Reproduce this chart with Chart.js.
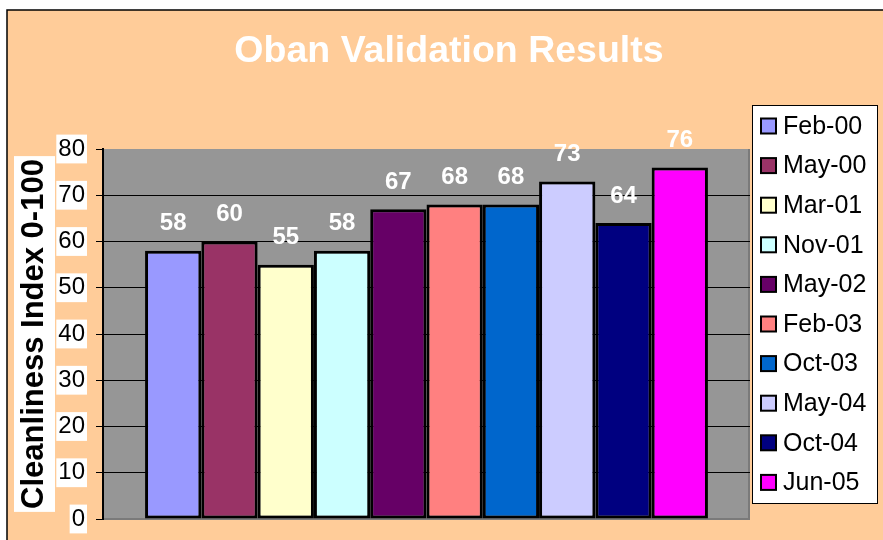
<!DOCTYPE html>
<html>
<head>
<meta charset="utf-8">
<script src="https://cdn.jsdelivr.net/npm/chart.js@4/dist/chart.umd.min.js"></script>
<style>
html,body{margin:0;padding:0;background:#fff;}
#wrap{width:883px;height:540px;position:relative;}
</style>
</head>
<body>
<div id="wrap"><canvas id="c" width="883" height="540"></canvas></div>
<script>
// ---- data ----
const seriesNames = ['Feb-00','May-00','Mar-01','Nov-01','May-02','Feb-03','Oct-03','May-04','Oct-04','Jun-05'];
const seriesValues = [58, 60, 55, 58, 67, 68, 68, 73, 64, 76];
const seriesColors = ['#9999FF','#993366','#FFFFCC','#CCFFFF','#660066','#FF8080','#0066CC','#CCCCFF','#000080','#FF00FF'];
const categories = [''];
const yTicks = [0,10,20,30,40,50,60,70,80];
const chartTitle = 'Oban Validation Results';

const FONT = '"Liberation Sans", Arial, sans-serif';

const datasets = seriesNames.map((n, i) => ({
  label: n,
  data: [seriesValues[i]],
  backgroundColor: seriesColors[i],
  borderColor: '#000',
  borderWidth: 3,
  borderSkipped: false
}));

const bgPlugin = {
  id: 'bg',
  beforeDraw(chart) {
    const ctx = chart.ctx;
    ctx.save();
    ctx.fillStyle = '#fff';
    ctx.fillRect(0, 0, chart.width, chart.height);
    ctx.fillStyle = '#FFCC99';
    ctx.fillRect(7, 10, chart.width - 7, chart.height - 10);
    ctx.strokeStyle = '#000';
    ctx.lineWidth = 1.5;
    ctx.beginPath();
    ctx.moveTo(7, chart.height);
    ctx.lineTo(7, 10);
    ctx.lineTo(chart.width, 10);
    ctx.stroke();
    // plot area
    const a = chart.chartArea;
    ctx.fillStyle = '#969696';
    ctx.fillRect(a.left, a.top, a.right - a.left, a.bottom - a.top);
    ctx.fillStyle = '#7a7a7a';
    ctx.fillRect(a.right - 2, a.top, 2, a.bottom - a.top + 1);
    ctx.fillRect(a.left, a.bottom - 1, a.right - a.left, 2);
    // axis title backdrop
    const ys = chart.scales.y;
    ctx.font = 'bold 31px ' + FONT;
    const tw = ctx.measureText(ys.options.title.text).width;
    const cy = (a.top + a.bottom) / 2;
    ctx.fillStyle = '#fff';
    ctx.fillRect(14, cy - tw / 2 - 3, 41, tw + 6);
    // chart title (centred on full chart width)
    ctx.fillStyle = '#fff';
    ctx.font = 'bold 37.5px ' + FONT;
    ctx.textAlign = 'center';
    ctx.textBaseline = 'middle';
    ctx.fillText(chartTitle, 449, 52);
    ctx.restore();
  }
};

const labelPlugin = {
  id: 'vals',
  afterDatasetsDraw(chart) {
    const ctx = chart.ctx;
    ctx.save();
    ctx.fillStyle = '#fff';
    ctx.font = 'bold 24px ' + FONT;
    ctx.textAlign = 'center';
    ctx.textBaseline = 'middle';
    chart.data.datasets.forEach((ds, i) => {
      const meta = chart.getDatasetMeta(i);
      meta.data.forEach((el, j) => {
        ctx.fillText(String(ds.data[j]), el.x, el.y - 27);
      });
    });
    ctx.restore();
  }
};

const legendPlugin = {
  id: 'customLegend',
  afterDraw(chart) {
    const ctx = chart.ctx;
    ctx.save();
    const left = 752, top = 105, w = 125, h = 398;
    ctx.fillStyle = '#fff';
    ctx.fillRect(left, top, w, h);
    ctx.strokeStyle = '#000';
    ctx.lineWidth = 1;
    ctx.strokeRect(left + 0.5, top + 0.5, w, h);
    ctx.font = '25px ' + FONT;
    ctx.textBaseline = 'middle';
    ctx.textAlign = 'left';
    chart.data.datasets.forEach((ds, i) => {
      const cy = 126 + i * 39.6;
      ctx.fillStyle = ds.backgroundColor;
      ctx.fillRect(761, cy - 7.5, 15, 15);
      ctx.lineWidth = 2;
      ctx.strokeStyle = '#000';
      ctx.strokeRect(761, cy - 7.5, 15, 15);
      ctx.fillStyle = '#000';
      ctx.fillText(ds.label, 783, cy + 1);
    });
    ctx.restore();
  }
};

new Chart(document.getElementById('c'), {
  type: 'bar',
  data: { labels: categories, datasets: datasets },
  plugins: [bgPlugin, labelPlugin, legendPlugin],
  options: {
    responsive: false,
    animation: false,
    devicePixelRatio: 1,
    layout: { padding: { top: 0, left: 8, right: 133, bottom: 21 } },
    datasets: { bar: { categoryPercentage: 0.87, barPercentage: 1.0 } },
    plugins: {
      legend: { display: false },
      tooltip: { enabled: false },
      title: {
        display: true,
        text: chartTitle,
        color: 'rgba(0,0,0,0)',
        font: { family: FONT, size: 37, weight: 'bold' },
        padding: { top: 29, bottom: 75.6 }
      }
    },
    scales: {
      x: { display: false, grid: { display: false } },
      y: {
        min: 0, max: 80,
        afterFit(s) { s.width = 95; s.paddingTop = 0; s.paddingBottom = 0; },
        afterBuildTicks(s) { s.ticks = yTicks.map(v => ({ value: v })); },
        border: { display: true, color: '#000', width: 2 },
        grid: {
          color: (c) => (c.tick && (c.tick.value === 0 || c.tick.value === 80)) ? 'rgba(0,0,0,0)' : '#000',
          tickColor: '#000',
          tickLength: 7,
          lineWidth: 1
        },
        ticks: {
          stepSize: 10,
          color: '#000',
          font: { family: FONT, size: 24 },
          padding: 11,
          showLabelBackdrop: true,
          backdropColor: '#fff',
          backdropPadding: { x: 2, y: 0 }
        },
        title: {
          display: true,
          text: 'Cleanliness Index 0-100',
          color: '#000',
          font: { family: FONT, size: 31, weight: 'bold' },
          padding: { top: 8, bottom: 0 }
        }
      }
    }
  }
});
</script>
</body>
</html>
